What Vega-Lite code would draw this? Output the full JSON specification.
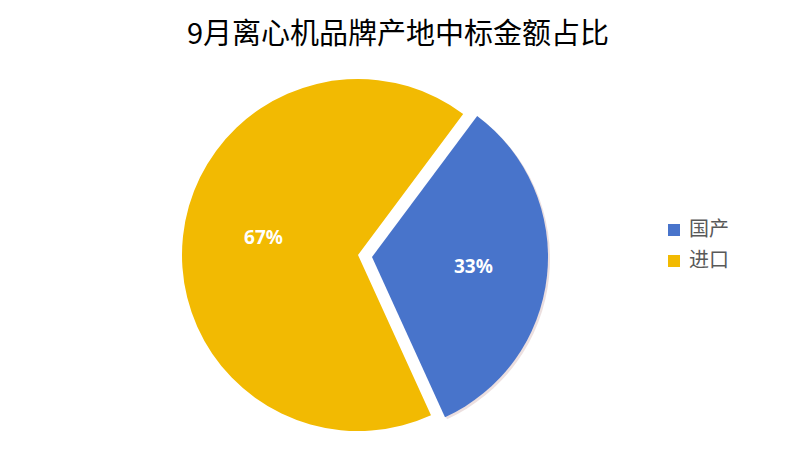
{
  "$schema": "https://vega.github.io/schema/vega-lite/v6.json",
  "autosize": {"type": "none"},
  "padding": {"top": 60, "left": 0, "right": 78, "bottom": 0},
  "width": 716,
  "height": 390,
  "background": "white",
  "title": {
    "text": "9月离心机品牌产地中标金额占比",
    "font": "Noto Sans CJK SC",
    "fontSize": 29,
    "fontWeight": "normal",
    "color": "#000000",
    "anchor": "middle",
    "dx": 40,
    "offset": 10
  },
  "config": {"view": {"stroke": null}},
  "data": {
    "values": [
      {"region": "国产", "share": 33, "label": "33%"},
      {"region": "进口", "share": 67, "label": "67%"}
    ]
  },
  "encoding": {
    "theta": {"field": "share", "type": "quantitative", "stack": true, "scale": {"range": [0.6405, 6.9237]}},
    "order": {"field": "region", "type": "nominal", "sort": "ascending"},
    "color": {
      "field": "region",
      "type": "nominal",
      "scale": {"domain": ["国产", "进口"], "range": ["#4874CB", "#F2BA02"]},
      "legend": {
        "title": null,
        "orient": "none",
        "legendX": 664,
        "legendY": 160,
        "symbolType": "square",
        "symbolSize": 144,
        "symbolOpacity": 1,
        "labelFont": "Noto Sans CJK SC",
        "labelFontSize": 20,
        "labelColor": "#595959",
        "labelLimit": 200,
        "rowPadding": 11,
        "labelOffset": 5
      }
    }
  },
  "layer": [
    {
      "mark": {"type": "arc", "outerRadius": 176},
      "encoding": {
        "opacity": {"condition": {"test": "datum.region === '进口'", "value": 1}, "value": 0}
      }
    },
    {
      "mark": {"type": "arc", "outerRadius": 176, "xOffset": 16, "yOffset": 4},
      "encoding": {
        "color": {"value": "#c8a4a4"},
        "opacity": {"condition": {"test": "datum.region === '国产'", "value": 0.35}, "value": 0}
      }
    },
    {
      "mark": {"type": "arc", "outerRadius": 176, "xOffset": 14, "yOffset": 2},
      "encoding": {
        "opacity": {"condition": {"test": "datum.region === '国产'", "value": 1}, "value": 0}
      }
    },
    {
      "mark": {"type": "text", "radius": 95, "yOffset": -7, "font": "Noto Sans", "fontSize": 19, "fontWeight": "bold"},
      "encoding": {
        "text": {"field": "label"},
        "color": {"value": "white"},
        "opacity": {"condition": {"test": "datum.region === '进口'", "value": 1}, "value": 0}
      }
    },
    {
      "mark": {"type": "text", "radius": 100, "xOffset": 16, "yOffset": 1, "font": "Noto Sans", "fontSize": 19, "fontWeight": "bold"},
      "encoding": {
        "text": {"field": "label"},
        "color": {"value": "white"},
        "opacity": {"condition": {"test": "datum.region === '国产'", "value": 1}, "value": 0}
      }
    }
  ]
}
